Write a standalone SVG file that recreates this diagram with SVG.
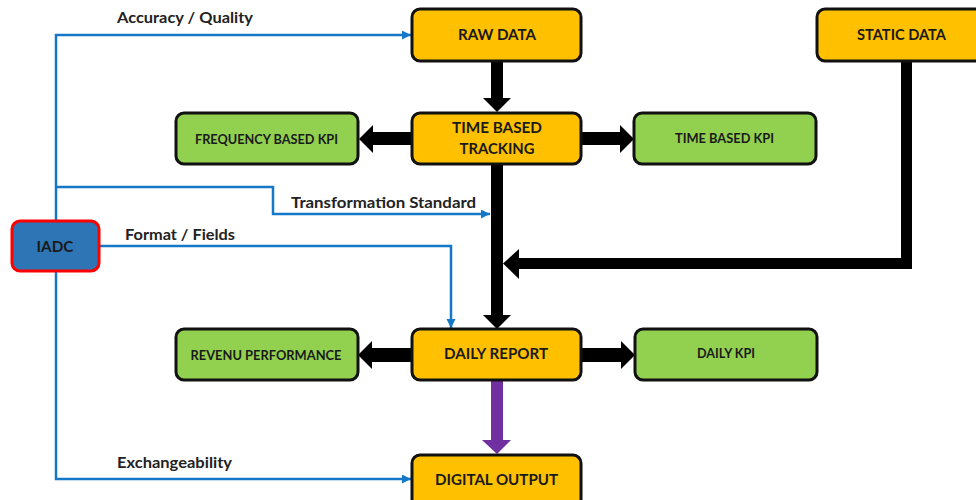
<svg xmlns="http://www.w3.org/2000/svg" width="976" height="500" viewBox="0 0 976 500">
<style>
.org{fill:#FFC000;stroke:#111;stroke-width:3}
.grn{fill:#92D050;stroke:#111;stroke-width:3}
.iadc{fill:#2E75B6;stroke:#FF0000;stroke-width:3}
.nt{font-family:Lato,"Liberation Sans",sans-serif;font-weight:bold;font-size:16px;fill:#1a1a1a;text-anchor:middle}
.st{font-family:Lato,"Liberation Sans",sans-serif;font-weight:bold;font-size:13px;fill:#1a1a1a;text-anchor:middle}
.lb{font-family:Lato,"Liberation Sans",sans-serif;font-weight:bold;font-size:15px;fill:#222}
.blk{fill:#000}
.pur{fill:#7030A0}
.bl{fill:none;stroke:#1577C8;stroke-width:2.5;marker-end:url(#ah)}
</style>
<defs>
<marker id="ah" markerUnits="userSpaceOnUse" markerWidth="10" markerHeight="10" refX="9" refY="4.5" orient="auto">
<path d="M0,0 L9,4.5 L0,9 z" fill="#1577C8"/>
</marker>
</defs>
<g id="connectors">
<rect class="blk" x="491" y="60" width="12" height="39"/>
<polygon class="blk" points="483,98 511,98 497,112"/>
<rect class="blk" x="372" y="132" width="42" height="13"/>
<polygon class="blk" points="373,125 373,153 359,139"/>
<rect class="blk" x="580" y="132" width="41" height="13"/>
<polygon class="blk" points="620,125 620,153 634,139"/>
<rect class="blk" x="491" y="163" width="12" height="153"/>
<polygon class="blk" points="483,315 511,315 497,329"/>
<rect class="blk" x="901" y="60" width="11" height="209"/>
<rect class="blk" x="518" y="258" width="394" height="11"/>
<polygon class="blk" points="519,249 519,279 503,263.5"/>
<rect class="blk" x="372" y="348" width="42" height="14"/>
<polygon class="blk" points="372,341 372,369 358,355"/>
<rect class="blk" x="580" y="348" width="42" height="14"/>
<polygon class="blk" points="621,341 621,369 635,355"/>
<rect class="pur" x="491" y="380" width="12" height="61"/>
<polygon class="pur" points="482,440 511,440 497,454"/>
<path class="bl" d="M56,221 V35 H411"/>
<path class="bl" d="M56,187 H273 V214 H490"/>
<path class="bl" d="M99,246 H451 V328"/>
<path class="bl" d="M56,272 V479 H411"/>
<text class="lb" x="117" y="23" textLength="136" lengthAdjust="spacingAndGlyphs">Accuracy / Quality</text>
<text class="lb" x="291" y="208" textLength="185" lengthAdjust="spacingAndGlyphs">Transformation Standard</text>
<text class="lb" x="125" y="240" textLength="110" lengthAdjust="spacingAndGlyphs">Format / Fields</text>
<text class="lb" x="117" y="468" textLength="115" lengthAdjust="spacingAndGlyphs">Exchangeability</text>
</g>
<g id="raw-data">
<rect class="org" x="412" y="9" width="169" height="52" rx="8"/>
<text class="nt" x="497" y="40" textLength="78" lengthAdjust="spacingAndGlyphs">RAW DATA</text>
</g>
<g id="static-data">
<rect class="org" x="817" y="9" width="172" height="52" rx="8"/>
<text class="nt" x="901.5" y="40" textLength="89" lengthAdjust="spacingAndGlyphs">STATIC DATA</text>
</g>
<g id="time-based-tracking">
<rect class="org" x="412" y="113" width="169" height="51" rx="8"/>
<text class="nt" x="497" y="133" textLength="90" lengthAdjust="spacingAndGlyphs">TIME BASED</text>
<text class="nt" x="497" y="154" textLength="75" lengthAdjust="spacingAndGlyphs">TRACKING</text>
</g>
<g id="frequency-based-kpi">
<rect class="grn" x="176" y="113" width="182" height="51" rx="8"/>
<text class="st" x="266.5" y="144" textLength="143" lengthAdjust="spacingAndGlyphs">FREQUENCY BASED KPI</text>
</g>
<g id="time-based-kpi">
<rect class="grn" x="634" y="113" width="182" height="51" rx="8"/>
<text class="st" x="724.5" y="143" textLength="99" lengthAdjust="spacingAndGlyphs">TIME BASED KPI</text>
</g>
<g id="iadc">
<rect class="iadc" x="12" y="221" width="87" height="50" rx="8"/>
<text class="nt" x="55" y="252" textLength="37" lengthAdjust="spacingAndGlyphs">IADC</text>
</g>
<g id="daily-report">
<rect class="org" x="412" y="329" width="169" height="51" rx="8"/>
<text class="nt" x="496" y="359" textLength="104" lengthAdjust="spacingAndGlyphs">DAILY REPORT</text>
</g>
<g id="revenu-performance">
<rect class="grn" x="176" y="329" width="182" height="51" rx="8"/>
<text class="st" x="266" y="360" textLength="151" lengthAdjust="spacingAndGlyphs">REVENU PERFORMANCE</text>
</g>
<g id="daily-kpi">
<rect class="grn" x="635" y="329" width="182" height="51" rx="8"/>
<text class="st" x="726" y="358" textLength="58" lengthAdjust="spacingAndGlyphs">DAILY KPI</text>
</g>
<g id="digital-output">
<rect class="org" x="412" y="455" width="169" height="52" rx="8"/>
<text class="nt" x="496.5" y="485" textLength="123" lengthAdjust="spacingAndGlyphs">DIGITAL OUTPUT</text>
</g>
</svg>
